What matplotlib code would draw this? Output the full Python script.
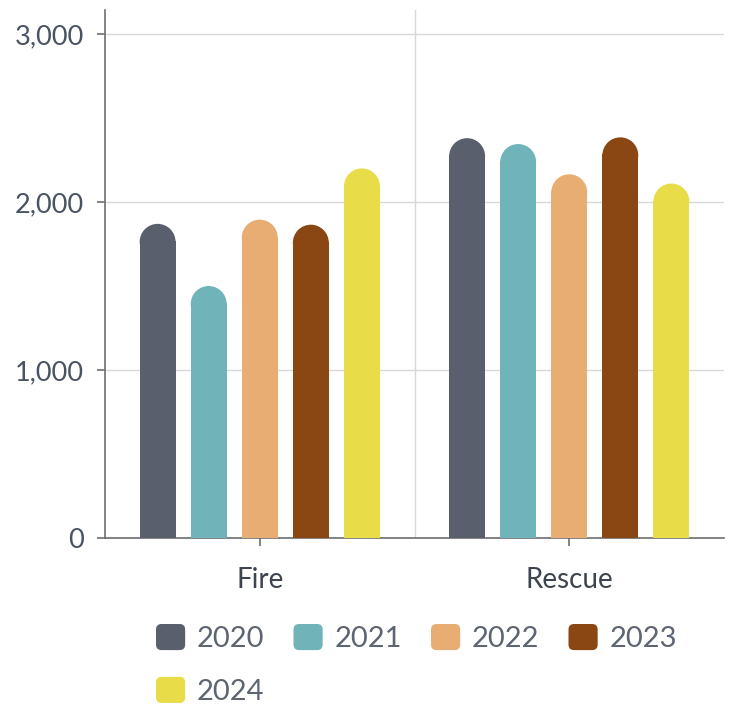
import numpy as np
import matplotlib.pyplot as plt
from matplotlib.patches import Ellipse, FancyBboxPatch
from matplotlib.legend_handler import HandlerPatch

plt.rcParams['font.family'] = ['Lato', 'DejaVu Sans']

# incidents per category and year
categories = ['Fire', 'Rescue']
years = ['2020', '2021', '2022', '2023', '2024']
fire = [1870, 1500, 1895, 1865, 2200]
rescue = [2380, 2345, 2165, 2385, 2110]
colors = ['#5a5f6d', '#70b3b9', '#e8ad72', '#8a4714', '#e8dc48']

values = np.array([fire, rescue])  # rows = category, cols = year

fig = plt.figure(figsize=(7.32, 7.04), dpi=100)
ax = fig.add_axes([105 / 732, 1 - 538 / 704, 619 / 732, 528 / 704])
ax.set_xlim(-0.5, 1.5)
ax.set_ylim(0, 3143)

bar_w = 0.116
step = 0.165

# how tall half a bar width is in y units, so the round caps look circular
p0 = ax.transData.transform((0, 0))
p1 = ax.transData.transform((1, 1))
r_y = (bar_w / 2) * (p1[0] - p0[0]) / (p1[1] - p0[1])

x = np.arange(len(categories))
for j, year in enumerate(years):
    xs = x + (j - 2) * step
    for xi, v in zip(xs, values[:, j]):
        ax.bar(xi, v - r_y + 5, width=bar_w, color=colors[j], linewidth=0, zorder=3)
        ax.add_patch(Ellipse((xi, v - r_y), bar_w, 2 * r_y, color=colors[j],
                             linewidth=0, zorder=3))

# grid and axes styling
ax.set_yticks([0, 1000, 2000, 3000])
ax.set_yticklabels(['0', '1,000', '2,000', '3,000'])
ax.set_xticks(x)
ax.set_xticklabels(categories)
ax.grid(axis='y', color='#d8d8d8', linewidth=1, zorder=0)
ax.axvline(0.5, color='#d8d8d8', linewidth=1, zorder=0)
for s in ['top', 'right']:
    ax.spines[s].set_visible(False)
for s in ['left', 'bottom']:
    ax.spines[s].set_color('#6e6e6e')
    ax.spines[s].set_linewidth(1.2)
ax.tick_params(axis='y', length=6, width=1.2, color='#6e6e6e', pad=9,
               labelsize=19.5, labelcolor='#4a5363')
ax.tick_params(axis='x', length=6, width=1.2, color='#6e6e6e', pad=15,
               labelsize=20, labelcolor='#3d4450')


class RoundSquare(HandlerPatch):
    def create_artists(self, legend, orig_handle, xdescent, ydescent,
                       width, height, fontsize, trans):
        p = FancyBboxPatch((-xdescent + 2, -ydescent + 2), width - 4, height - 4,
                           boxstyle='round,pad=2,rounding_size=4',
                           facecolor=orig_handle.get_facecolor(),
                           edgecolor='none', transform=trans)
        return [p]


handles = [plt.Rectangle((0, 0), 1, 1, facecolor=c) for c in colors]
# legend fills column by column, so put 2024 under 2020
order = [0, 4, 1, 2, 3]
fig.legend([handles[i] for i in order], [years[i] for i in order],
           loc='upper left', bbox_to_anchor=(156 / 732, 1 - 624 / 704),
           ncol=4, frameon=False, fontsize=21, handlelength=1.0, handleheight=1.0,
           handletextpad=0.4, columnspacing=1.0, labelspacing=0.85,
           borderpad=0, borderaxespad=0, labelcolor='#5d6572',
           handler_map={plt.Rectangle: RoundSquare()})

fig.savefig('out.png', dpi=100)
